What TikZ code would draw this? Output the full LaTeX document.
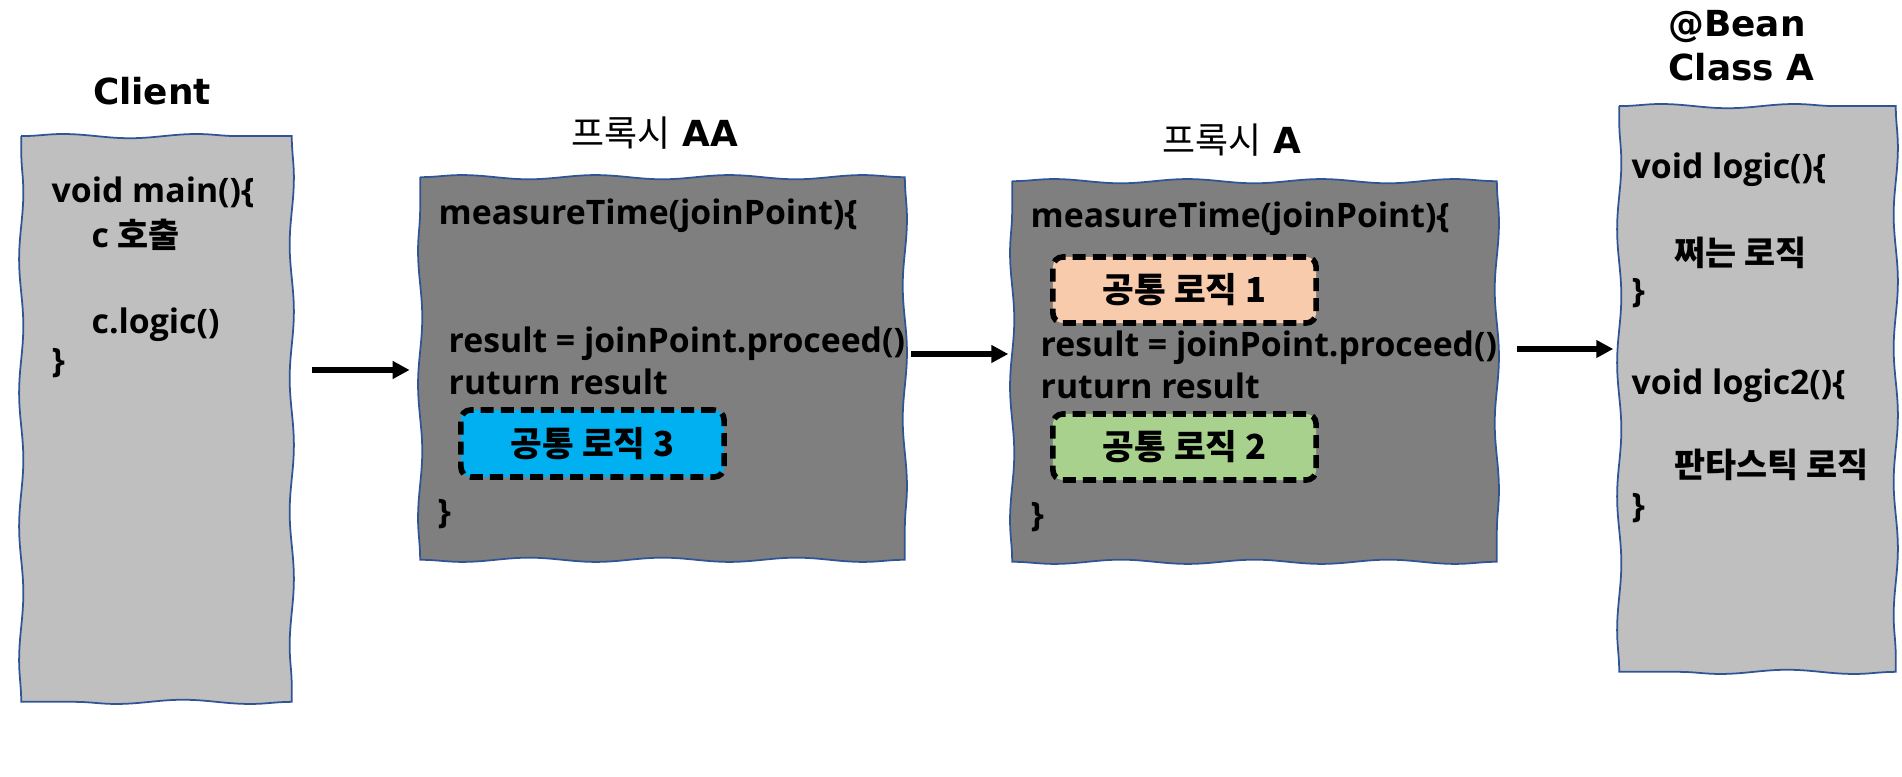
\documentclass[tikz,border=0pt]{standalone}
\usepackage{fontspec}
\setmainfont{Open Sans}
\newfontfamily\kr{Noto Sans CJK KR}
\newfontfamily\heavy{DejaVu Sans}
\usetikzlibrary{arrows.meta,decorations.pathmorphing}

\definecolor{edge}{HTML}{2F5597}
\definecolor{lightbox}{HTML}{BFBFBF}
\definecolor{darkbox}{HTML}{7F7F7F}
\definecolor{logicblue}{HTML}{00B0F0}
\definecolor{logicpeach}{HTML}{F8CBAD}
\definecolor{logicgreen}{HTML}{A9D18E}

\tikzset{
  sketch/.style={draw=edge, line width=0.5pt,
    decoration={snake, segment length=38pt, amplitude=0.6pt}},
  codebox/.style={inner sep=0pt},
  code/.style={anchor=west, inner sep=0pt, text height=7pt, text depth=2pt,
    font=\bfseries\fontsize{9.6}{11}\selectfont},
  logic/.style={draw=black, line width=1.6pt, dash pattern=on 3.7pt off 2pt,
    rounded corners=2.8pt, inner sep=0pt, font=\kr\bfseries\fontsize{9.8}{11}\selectfont},
  title/.style={align=left, font=\heavy\bfseries\fontsize{10.2}{12.5}\selectfont},
  flow/.style={line width=1.9pt, -{Triangle[length=4.8pt,width=4.8pt]}},
}

% wavy outline round a named box
\newcommand{\wobblebox}[2]{%
  \filldraw[sketch, fill=#2] (#1.north west) decorate{-- (#1.north east)}
    decorate{-- (#1.south east)} decorate{-- (#1.south west)}
    decorate{-- (#1.north west)} -- cycle;}

\begin{document}
\begin{tikzpicture}[x=0.01cm, y=-0.01cm]
    \useasboundingbox (0,0) rectangle (1902,777);

    % Client
    \node[title] (clienttitle) at (152,91) {Client};
    \node[codebox, minimum width=2.69cm, minimum height=5.64cm] (client) at (156.5,419) {};
    \wobblebox{client}{lightbox}
    \node[code] (main) at (51,194) {void main()\{};
    \node[code] (call) at (91,239) {c {\kr 호출}};
    \node[code] (clogic) at (91,325) {c.logic()};
    \node[code] (mainend) at (51,364) {\}};

    % 프록시 AA
    \node[title] (aatitle) at (655,133) {{\kr\mdseries 프록시} AA};
    \node[codebox, minimum width=4.83cm, minimum height=3.81cm] (proxyAA) at (662.5,368.5) {};
    \wobblebox{proxyAA}{darkbox}
    \node[code] (aameasure) at (438,216) {measureTime(joinPoint)\{};
    \node[code] (aaresult) at (448,344) {result = joinPoint.proceed()};
    \node[code] (aareturn) at (448,386) {ruturn result};
    \node[logic, fill=logicblue, minimum width=2.63cm, minimum height=0.67cm] (logic3) at (592.5,443.5) {공통 로직 3};
    \node[code] (aaend) at (437,515) {\}};

    % 프록시 A
    \node[title] (atitle) at (1232,140) {{\kr\mdseries 프록시} A};
    \node[codebox, minimum width=4.83cm, minimum height=3.79cm] (proxyA) at (1254.5,371.5) {};
    \wobblebox{proxyA}{darkbox}
    \node[code] (ameasure) at (1030,219) {measureTime(joinPoint)\{};
    \node[logic, fill=logicpeach, minimum width=2.63cm, minimum height=0.66cm] (logic1) at (1184.5,290) {공통 로직 1};
    \node[code] (aresult) at (1040,348) {result = joinPoint.proceed()};
    \node[code] (areturn) at (1040,390) {ruturn result};
    \node[logic, fill=logicgreen, minimum width=2.63cm, minimum height=0.66cm] (logic2) at (1184.5,447) {공통 로직 2};
    \node[code] (aend) at (1030,518) {\}};

    % @Bean Class A
    \node[title, anchor=west] (beantitle) at (1656,46) {@Bean\\Class A};
    \node[codebox, minimum width=2.75cm, minimum height=5.64cm] (bean) at (1757.5,389) {};
    \wobblebox{bean}{lightbox}
    \node[code] (logicone) at (1631,170) {void logic()\{};
    \node[code] (logicbody) at (1674,257) {\kr 쩌는 로직};
    \node[code] (logicend) at (1631,294) {\}};
    \node[code] (logictwo) at (1631,386) {void logic2()\{};
    \node[code] (logictwobody) at (1674,469) {\kr 판타스틱 로직};
    \node[code] (logictwoend) at (1631,509) {\}};

    \draw[flow, shorten <=5.7pt, shorten >=3pt] (client.east |- 0,370) -- (proxyAA.west |- 0,370);
    \draw[flow, shorten <=1.7pt, shorten >=1.1pt] (proxyAA.east |- 0,354) -- (proxyA.west |- 0,354);
    \draw[flow, shorten <=5.7pt, shorten >=1.7pt] (proxyA.east |- 0,349) -- (bean.west |- 0,349);
\end{tikzpicture}
\end{document}
